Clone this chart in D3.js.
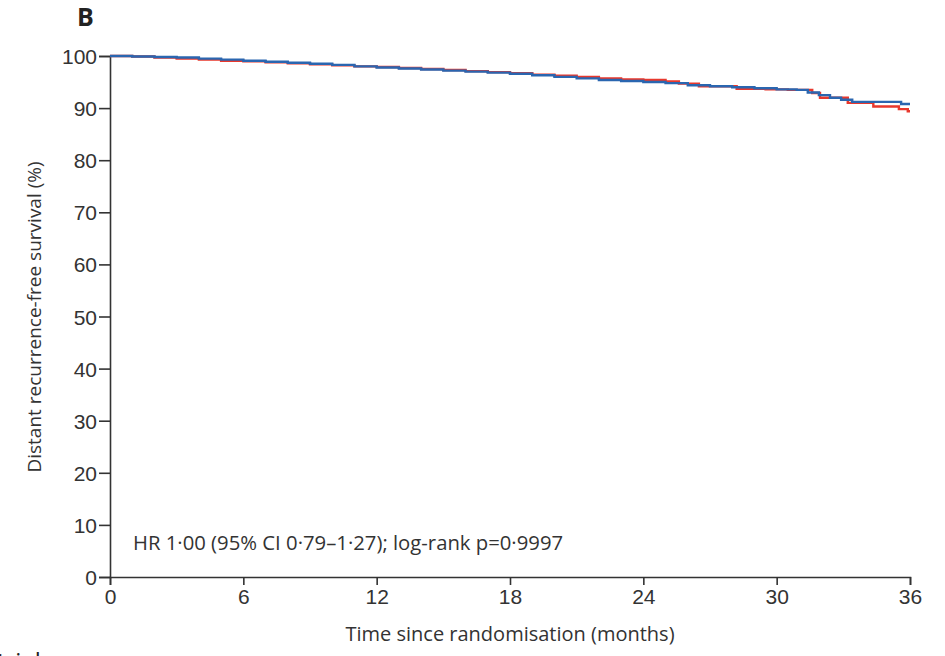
<!DOCTYPE html>
<html>
<head>
<meta charset="utf-8">
<script src="https://cdn.jsdelivr.net/npm/d3@7"></script>
<style>
  body { margin: 0; background: #fff; }
  svg { font-family: "Open Sans", "DejaVu Sans", sans-serif; }
</style>
</head>
<body>
<div id="chart"></div>
<script>
// months since randomisation, survival (%)
var monthTicks = [0, 6, 12, 18, 24, 30, 36];
var pctTicks = [0, 10, 20, 30, 40, 50, 60, 70, 80, 90, 100];

var redTime = [0, 1, 2, 3, 4, 5, 6, 7, 8, 9, 10, 11, 12, 13, 14, 15, 16, 17, 18, 19, 20, 21, 22, 23, 24, 25, 25.6, 26.5, 28.2, 29.5, 30.5, 31.6, 31.95, 33.2, 34.35, 35.5, 35.9, 36];
var redSurv = [100, 99.9, 99.7, 99.5, 99.3, 99.1, 99.0, 98.8, 98.6, 98.4, 98.2, 98.0, 97.9, 97.7, 97.5, 97.3, 97.1, 96.9, 96.7, 96.4, 96.2, 96.0, 95.7, 95.5, 95.4, 95.1, 94.7, 94.2, 93.7, 93.6, 93.5, 92.9, 92.0, 91.0, 90.3, 89.8, 89.4, 89.4];

var blueTime = [0, 1, 2, 3, 4, 5, 6, 7, 8, 9, 10, 11, 12, 13, 14, 15, 16, 17, 18, 19, 20, 21, 22, 23, 24, 25, 26, 27, 28, 29, 30, 30.9, 31.4, 31.9, 32.4, 32.9, 33.4, 35.6, 36];
var blueSurv = [100, 99.9, 99.8, 99.7, 99.5, 99.3, 99.1, 98.9, 98.7, 98.5, 98.3, 98.0, 97.8, 97.6, 97.4, 97.2, 97.0, 96.8, 96.6, 96.3, 96.0, 95.7, 95.4, 95.2, 95.0, 94.8, 94.4, 94.2, 94.0, 93.8, 93.6, 93.5, 93.0, 92.5, 92.0, 91.6, 91.2, 90.8, 90.8];

var W = 945, H = 656;
var m = {top: 56, right: 35, bottom: 80, left: 110};
var w = W - m.left - m.right,
    h = H - m.top - m.bottom;

var x = d3.scaleLinear().domain([0, 36]).range([0, w]);
var y = d3.scaleLinear().domain([0, 100]).range([h + 1, 0]);

var svg = d3.select("#chart").append("svg")
  .attr("width", W)
  .attr("height", H);

var g = svg.append("g")
  .attr("transform", "translate(" + m.left + "," + m.top + ")");

svg.append("text")
  .attr("x", 77).attr("y", 26)
  .attr("font-size", 25)
  .attr("font-weight", "bold")
  .attr("fill", "#222")
  .text("B");

// axes
var yAxis = g.append("g")
  .call(d3.axisLeft(y).tickValues(pctTicks).tickSize(11).tickPadding(2));
var xAxis = g.append("g")
  .attr("transform", "translate(0," + (h + 1) + ")")
  .call(d3.axisBottom(x).tickValues(monthTicks).tickSize(8).tickPadding(4));

[xAxis, yAxis].forEach(function(a) {
  a.select(".domain").attr("stroke", "#333").attr("stroke-width", 1.6);
  a.selectAll(".tick line").attr("stroke", "#333").attr("stroke-width", 1.6);
  a.selectAll(".tick text")
    .attr("font-size", 21)
    .attr("fill", "#333");
});
yAxis.selectAll(".tick text").attr("dy", "0.36em");
xAxis.selectAll(".tick text").attr("dy", "0.72em");

g.append("text")
  .attr("transform", "translate(" + (41 - m.left) + "," + (317 - m.top) + ") rotate(-90)")
  .attr("text-anchor", "middle")
  .attr("font-size", 19)
  .attr("fill", "#333")
  .text("Distant recurrence-free survival (%)");

svg.append("text")
  .attr("x", m.left + x(18)).attr("y", 641)
  .attr("text-anchor", "middle")
  .attr("font-size", 20)
  .attr("fill", "#333")
  .text("Time since randomisation (months)");

g.append("text")
  .attr("x", 23).attr("y", 550 - m.top)
  .attr("font-size", 20.3)
  .attr("fill", "#333")
  .text("HR 1·00 (95% CI 0·79–1·27); log-rank p=0·9997");

// cropped caption from the next panel
svg.append("text")
  .attr("x", -3).attr("y", 670)
  .attr("font-size", 24)
  .attr("fill", "#222")
  .text("trial");

// survival curves
var line = d3.line()
  .x(function(d) { return x(d[0]); })
  .y(function(d) { return y(d[1]); })
  .curve(d3.curveStepAfter);

var curves = [
  {name: "red", colour: "#e8382d", pts: d3.zip(redTime, redSurv)},
  {name: "blue", colour: "#2a66b0", pts: d3.zip(blueTime, blueSurv)}
];

g.selectAll("path.km")
  .data(curves)
  .enter()
  .append("path")
  .attr("class", "km")
  .attr("fill", "none")
  .attr("stroke", function(d) { return d.colour; })
  .attr("stroke-width", 2.4)
  .attr("d", function(d) { return line(d.pts); });
</script>
</body>
</html>
